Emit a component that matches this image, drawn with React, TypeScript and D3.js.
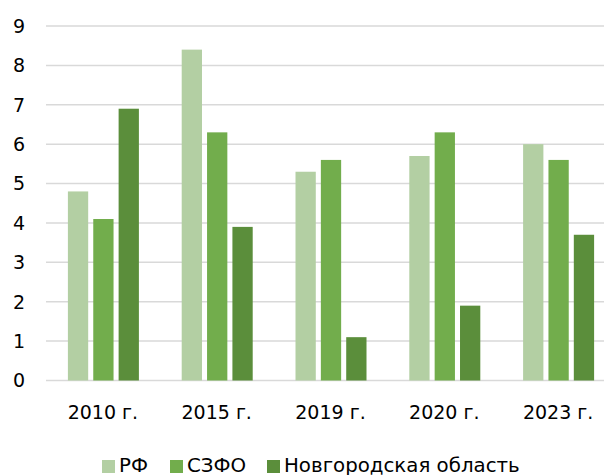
import * as d3 from 'd3';
import * as React from 'react';

const { useRef, useEffect } = React;

const width = 604;
const height = 475;
const margin = { top: 26, right: -11, bottom: 94, left: 46 };

const categories = ['2010 г.', '2015 г.', '2019 г.', '2020 г.', '2023 г.'];
const seriesNames = ['РФ', 'СЗФО', 'Новгородская область'];
const rf = [4.8, 8.4, 5.3, 5.7, 6.0];
const szfo = [4.1, 6.3, 5.6, 6.3, 5.6];
const novgorod = [6.9, 3.9, 1.1, 1.9, 3.7];
const yTicks = [0, 1, 2, 3, 4, 5, 6, 7, 8, 9];

const colors = ['#b3cfa3', '#72ad4c', '#5b8e3b'];
const font = 'DejaVu Sans, Verdana, sans-serif';

export default () => {
  const rootRef = useRef<SVGSVGElement>(null);

  useEffect(() => {
    const svgEl = rootRef.current;
    if (!svgEl) return;
    const svg = d3.select(svgEl);
    svg.selectAll('*').remove();

    const values = [rf, szfo, novgorod];

    const x0 = d3
      .scaleBand()
      .domain(categories)
      .range([margin.left, width - margin.right]);

    const x1 = d3
      .scaleBand()
      .domain(seriesNames)
      .range([x0.bandwidth() / 2 - 35, x0.bandwidth() / 2 + 36])
      .paddingInner(0.2);

    const y = d3
      .scaleLinear()
      .domain([0, 9])
      .range([height - margin.bottom - 0.5, margin.top]);

    // grid
    svg
      .append('g')
      .selectAll('line')
      .data(yTicks)
      .join('line')
      .attr('x1', margin.left)
      .attr('x2', width)
      .attr('y1', d => y(d))
      .attr('y2', d => y(d))
      .attr('stroke', '#d9d9d9')
      .attr('stroke-width', 1.5);

    // y labels
    svg
      .append('g')
      .selectAll('text')
      .data(yTicks)
      .join('text')
      .attr('x', 25)
      .attr('y', d => y(d))
      .attr('dy', '0.36em')
      .attr('text-anchor', 'end')
      .attr('font-family', font)
      .attr('font-size', 19)
      .attr('fill', '#000')
      .text(d => d);

    // bars
    svg
      .append('g')
      .selectAll('g')
      .data(categories)
      .join('g')
      .attr('transform', d => `translate(${x0(d)},0)`)
      .selectAll('rect')
      .data((d, i) => seriesNames.map((s, j) => ({ s, j, v: values[j][i] })))
      .join('rect')
      .attr('x', d => x1(d.s) as number)
      .attr('y', d => y(d.v))
      .attr('width', x1.bandwidth())
      .attr('height', d => y(0) - y(d.v))
      .attr('fill', d => colors[d.j]);

    // x labels
    svg
      .append('g')
      .selectAll('text')
      .data(categories)
      .join('text')
      .attr('x', d => (x0(d) as number) + x0.bandwidth() / 2)
      .attr('y', 419)
      .attr('text-anchor', 'middle')
      .attr('font-family', font)
      .attr('font-size', 19)
      .attr('fill', '#000')
      .text(d => d);

    // legend
    const legendX = [102, 170, 267];
    const lg = svg
      .append('g')
      .selectAll('g')
      .data(seriesNames)
      .join('g')
      .attr('transform', (d, i) => `translate(${legendX[i]},460)`);
    lg.append('rect')
      .attr('width', 13)
      .attr('height', 13)
      .attr('fill', (d, i) => colors[i]);
    lg.append('text')
      .attr('x', 17)
      .attr('y', 11.5)
      .attr('font-family', font)
      .attr('font-size', 19.8)
      .attr('fill', '#000')
      .text(d => d);
  }, []);

  return (
    <svg
      ref={rootRef}
      width={width}
      height={height}
      style={{ position: 'absolute', left: 0, top: 0, background: '#fff' }}
    />
  );
};
